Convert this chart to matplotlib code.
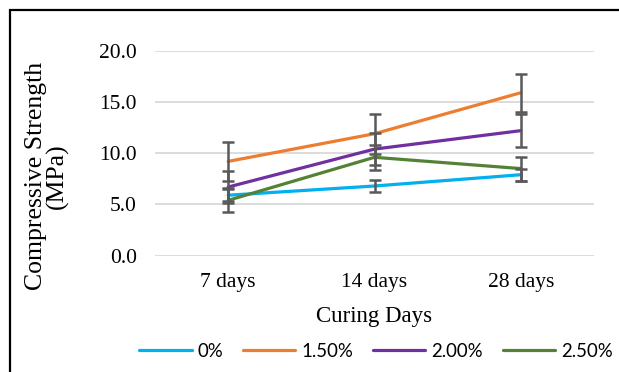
import matplotlib
matplotlib.use('Agg')
import matplotlib.pyplot as plt
from matplotlib.patches import Rectangle
import numpy as np

categories = ['7 days', '14 days', '28 days']
series_names = ['0%', '1.50%', '2.00%', '2.50%']
values_0 = [5.9, 6.8, 7.9]
values_150 = [9.2, 11.9, 15.9]
values_200 = [6.7, 10.4, 12.2]
values_250 = [5.4, 9.6, 8.5]
err_0 = [0.6, 0.55, 0.58]
err_150 = [1.9, 1.93, 1.86]
err_200 = [1.6, 1.57, 1.63]
err_250 = [1.17, 1.2, 1.17]
colors = ['#00B0F0', '#ED7D31', '#7030A0', '#548235']


def plot(output_filename):
    fig = plt.figure(figsize=(6.19, 3.72), dpi=100)
    ax = fig.add_axes([155 / 619, 116.3 / 372, 439 / 619, 205 / 372])

    x = np.arange(len(categories)) + 0.5
    data = [(values_0, err_0), (values_150, err_150),
            (values_200, err_200), (values_250, err_250)]
    for name, (vals, errs), color in zip(series_names, data, colors):
        ax.plot(x, vals, '-', color=color, linewidth=2.3, label=name,
                solid_capstyle='round', zorder=3)
        ax.errorbar(x, vals, yerr=errs, fmt='none', ecolor='#595959',
                    elinewidth=1.8, capsize=4.5, capthick=1.8, zorder=4)

    ax.set_xlim(0, 3)
    ax.set_ylim(0, 20)
    ax.set_yticks([0, 5, 10, 15, 20])
    ax.set_yticklabels(['%.1f' % v for v in [0, 5, 10, 15, 20]])
    ax.set_xticks(x)
    ax.set_xticklabels(categories)
    ax.yaxis.grid(True, color='#D9D9D9', linewidth=1.3)
    ax.set_axisbelow(True)
    for s in ax.spines.values():
        s.set_visible(False)
    ax.tick_params(length=0)
    ax.tick_params(axis='y', pad=13)
    ax.tick_params(axis='x', pad=12.5)
    for item in ax.get_xticklabels() + ax.get_yticklabels():
        item.set_fontfamily('Liberation Serif')
        item.set_fontsize(15.5)

    ax.set_xlabel('Curing Days', fontfamily='Liberation Serif',
                  fontsize=16.5, labelpad=10)
    fig.text(47 / 619, 1 - 176 / 372, 'Compressive Strength\n(MPa)',
             fontfamily='Liberation Serif', fontsize=18.5, rotation=90,
             ha='center', va='center', linespacing=0.9)

    fig.legend(loc='center', bbox_to_anchor=(376 / 619, 1 - 351.5 / 372),
               ncol=4, frameon=False, handlelength=2.8, handletextpad=0.3,
               columnspacing=1.1, prop={'family': 'Lato', 'size': 13.4})

    fig.patches.append(Rectangle((10 / 619, -0.1), 1.2, 1 - 10 / 372 + 0.1,
                                 transform=fig.transFigure, fill=False,
                                 edgecolor='black', linewidth=1.6))

    fig.savefig(output_filename, dpi=100)


if __name__ == '__main__':
    plot('out.png')
